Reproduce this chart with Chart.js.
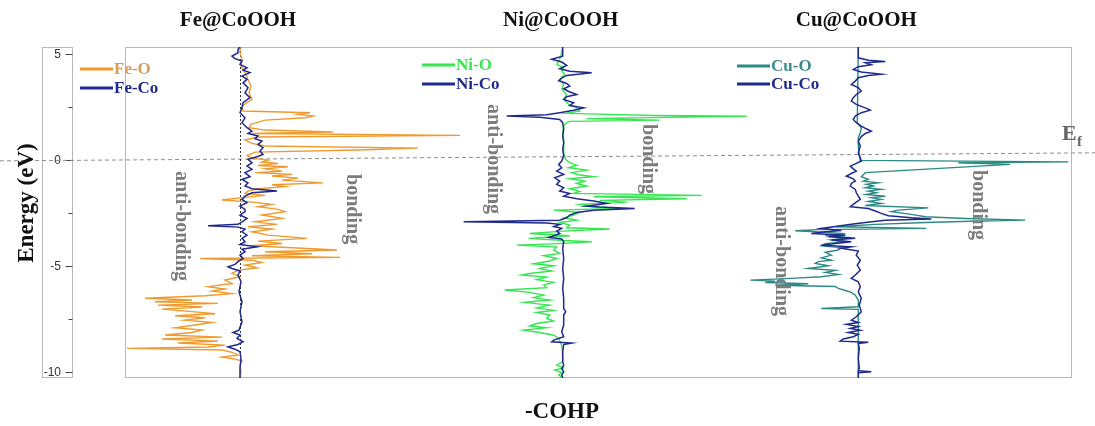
<!DOCTYPE html>
<html>
<head>
<meta charset="utf-8">
<title>-COHP of M@CoOOH</title>
<script src="https://cdn.jsdelivr.net/npm/chart.js@4"></script>
<style>
  html, body { margin: 0; padding: 0; background: #fff; }
  #wrap { width: 1095px; height: 426px; position: relative; }
</style>
</head>
<body>
<div id="wrap"><canvas id="cohp_chart"></canvas></div>
<script>
// each pair is [energy (eV), -COHP]
const feO = [[5.35,0],[5.08,0],[4.77,0.02],[4.45,0.01],[4.14,0.05],[3.82,0.08],[3.51,0.11],[3.19,0.09],[2.88,0.12],[2.56,0.02],[2.33,0.03],[2.25,0.70],[2.17,0.58],[2.09,0.73],[2.01,0.65],[1.90,0.25],[1.70,0.11],[1.54,0.09],[1.43,0.25],[1.34,0.93],[1.27,0.12],[1.18,2.20],[1.10,0.18],[0.96,0.05],[0.80,0.12],[0.68,0.25],[0.58,1.78],[0.49,1.18],[0.39,0.15],[0.23,0.07],[0.11,0.12],[0.01,0.28],[-0.08,0.22],[-0.14,0.38],[-0.24,0.18],[-0.30,0.48],[-0.40,0.25],[-0.51,0.42],[-0.58,0.15],[-0.66,0.52],[-0.74,0.32],[-0.84,0.58],[-0.93,0.42],[-1.06,0.83],[-1.15,0.32],[-1.24,0.45],[-1.34,0.18],[-1.45,0.08],[-1.56,0.05],[-1.65,0.25],[-1.76,0.02],[-1.87,-0.18],[-1.97,0.12],[-2.08,0.32],[-2.19,0.18],[-2.31,0.38],[-2.42,0.45],[-2.58,0.22],[-2.74,0.42],[-2.90,0.15],[-3.02,0.37],[-3.13,0.08],[-3.24,0.32],[-3.37,0.12],[-3.53,0.28],[-3.68,0.67],[-3.81,0.18],[-3.92,0.42],[-4.03,0.12],[-4.12,0.52],[-4.23,0.97],[-4.31,0.25],[-4.41,0.72],[-4.50,0.12],[-4.58,1.00],[-4.63,-0.40],[-4.71,0.12],[-4.82,0.22],[-4.94,0.05],[-5.07,0.17],[-5.19,-0.02],[-5.33,-0.08],[-5.49,0],[-5.65,-0.15],[-5.81,-0.08],[-5.96,-0.32],[-6.07,-0.15],[-6.17,-0.28],[-6.29,-0.08],[-6.39,-0.35],[-6.51,-0.95],[-6.59,-0.48],[-6.67,-0.85],[-6.75,-0.22],[-6.83,-0.82],[-6.92,-0.38],[-7.02,-0.78],[-7.14,-0.48],[-7.24,-0.25],[-7.33,-0.65],[-7.43,-0.35],[-7.54,-0.55],[-7.65,-0.28],[-7.77,-0.45],[-7.90,-0.65],[-8.01,-0.38],[-8.12,-0.48],[-8.24,-0.75],[-8.34,-0.18],[-8.43,-0.78],[-8.53,-0.22],[-8.62,-0.62],[-8.72,-0.15],[-8.81,-0.32],[-8.87,-1.13],[-8.95,-0.18],[-9.06,-0.08],[-9.19,-0.02],[-9.28,-0.18],[-9.38,-0.05],[-9.47,0.02],[-9.66,0],[-9.98,0.01],[-10.27,0]];
const feCo = [[5.35,0],[5.24,-0.02],[5.08,-0.02],[4.92,-0.08],[4.80,-0.05],[4.69,0.02],[4.53,0],[4.37,0.07],[4.26,0.03],[4.14,0.10],[3.98,0.02],[3.82,0.07],[3.66,0.03],[3.43,0.08],[3.19,0.05],[2.96,0.10],[2.72,0.03],[2.48,0.02],[2.25,0],[2.01,0.05],[1.78,0.02],[1.54,0.07],[1.38,0.12],[1.27,0.08],[1.15,0.18],[1.02,0.15],[0.91,0.22],[0.75,0.18],[0.60,0.23],[0.44,0.20],[0.28,0.23],[0.17,0.17],[0.05,0.08],[-0.11,0.12],[-0.27,0.07],[-0.43,0.12],[-0.58,0.05],[-0.77,0.10],[-0.90,0.02],[-1.06,0.08],[-1.21,0.05],[-1.34,0.12],[-1.45,0.37],[-1.53,0.12],[-1.69,0.05],[-1.84,0.02],[-2.00,0.07],[-2.16,0],[-2.31,0.05],[-2.42,0.05],[-2.58,0],[-2.74,0.07],[-2.90,0.02],[-3.02,-0.02],[-3.09,-0.32],[-3.15,-0.02],[-3.24,0.05],[-3.37,0.02],[-3.53,0.07],[-3.68,0.02],[-3.84,0.05],[-3.97,0],[-4.08,0.17],[-4.19,0.02],[-4.31,0.05],[-4.47,0],[-4.63,0.03],[-4.78,-0.02],[-4.91,-0.05],[-5.02,-0.12],[-5.10,-0.08],[-5.22,0],[-5.41,-0.02],[-5.73,0.01],[-6.20,-0.01],[-6.67,0.02],[-7.14,0],[-7.62,0.02],[-8.01,-0.01],[-8.12,-0.07],[-8.24,0],[-8.40,-0.03],[-8.56,0.03],[-8.69,-0.02],[-8.80,-0.12],[-8.91,-0.05],[-9.03,0],[-9.35,0.01],[-9.82,0],[-10.27,0]];
const niO = [[5.35,0],[4.92,-0.02],[4.77,-0.03],[4.53,-0.06],[4.37,0.01],[4.21,-0.01],[4.06,0.02],[3.82,-0.03],[3.59,0.01],[3.35,-0.01],[3.11,0.04],[2.88,0.01],[2.64,0.06],[2.48,0.14],[2.33,0.17],[2.22,0.04],[2.12,0.91],[2.08,1.84],[2.03,1.04],[1.97,0.24],[1.90,0.97],[1.84,0.07],[1.78,0.04],[1.62,0.01],[1.30,0],[0.99,0.01],[0.68,0.01],[0.36,0.01],[0.05,0.03],[-0.11,0.07],[-0.24,0.14],[-0.35,0.06],[-0.46,0.24],[-0.58,0.09],[-0.68,0.16],[-0.77,0.31],[-0.87,0.07],[-0.98,0.22],[-1.09,0.14],[-1.21,0.24],[-1.34,0.07],[-1.47,0.17],[-1.56,0.11],[-1.65,1.39],[-1.72,0.31],[-1.81,1.24],[-1.89,0.37],[-1.97,0.64],[-2.08,0.17],[-2.19,0.31],[-2.27,0.57],[-2.35,-0.09],[-2.46,0.17],[-2.58,0.11],[-2.71,0.01],[-2.82,0.14],[-2.93,-0.03],[-3.05,0.07],[-3.18,0.04],[-3.24,0.47],[-3.34,0.01],[-3.45,-0.33],[-3.56,0.07],[-3.68,-0.34],[-3.78,0.01],[-3.84,0.29],[-3.94,-0.09],[-4.00,-0.46],[-4.09,-0.06],[-4.23,-0.09],[-4.39,-0.03],[-4.50,-0.19],[-4.63,-0.06],[-4.75,-0.13],[-4.88,-0.29],[-4.97,-0.09],[-5.10,-0.23],[-5.22,-0.11],[-5.34,-0.33],[-5.41,-0.41],[-5.51,-0.16],[-5.63,-0.26],[-5.76,-0.09],[-5.89,-0.19],[-6.01,-0.16],[-6.12,-0.58],[-6.23,-0.33],[-6.36,-0.19],[-6.48,-0.29],[-6.59,-0.13],[-6.70,-0.38],[-6.83,-0.13],[-6.96,-0.26],[-7.08,-0.09],[-7.18,-0.26],[-7.30,-0.13],[-7.46,-0.16],[-7.58,-0.09],[-7.70,-0.26],[-7.81,-0.33],[-7.90,-0.16],[-8.01,-0.39],[-8.12,-0.23],[-8.25,-0.09],[-8.40,-0.04],[-8.72,-0.01],[-9.19,0],[-9.50,0],[-9.66,-0.06],[-9.79,0.01],[-9.90,-0.08],[-10.01,-0.01],[-10.13,-0.04],[-10.27,0]];
const niCo = [[5.35,0],[4.92,0],[4.77,-0.11],[4.64,-0.01],[4.48,0.04],[4.32,-0.03],[4.21,0.07],[4.14,0.29],[4.01,0.04],[3.88,-0.01],[3.76,-0.04],[3.63,0.04],[3.51,0.07],[3.38,0.01],[3.25,0.06],[3.11,0.14],[3.00,0.04],[2.88,0.01],[2.72,0.11],[2.59,0.07],[2.48,0.21],[2.37,0.11],[2.25,-0.03],[2.15,-0.16],[2.09,-0.56],[2.03,-0.23],[1.93,-0.03],[1.78,0],[1.46,0.01],[1.15,0],[0.83,0.01],[0.52,0],[0.20,0.01],[-0.03,-0.01],[-0.19,-0.04],[-0.35,-0.01],[-0.51,-0.06],[-0.66,0.01],[-0.82,-0.08],[-0.98,-0.03],[-1.13,-0.06],[-1.29,0.01],[-1.45,-0.03],[-1.56,0.07],[-1.69,0.01],[-1.81,0.14],[-1.92,0.31],[-2.03,0.44],[-2.16,0.24],[-2.20,0.37],[-2.27,0.72],[-2.35,0.31],[-2.46,0.14],[-2.58,0.07],[-2.71,0.04],[-2.82,-0.03],[-2.90,-0.99],[-2.96,-0.16],[-3.02,-0.03],[-3.12,-0.09],[-3.21,-0.01],[-3.34,-0.06],[-3.45,-0.03],[-3.56,-0.09],[-3.64,-0.14],[-3.71,-0.01],[-3.84,0.01],[-4.16,0],[-4.63,0.01],[-5.10,0],[-5.57,0.01],[-6.04,0],[-6.52,0.01],[-6.99,0.01],[-7.14,0.03],[-7.30,0.01],[-7.77,0.01],[-8.09,-0.01],[-8.32,0.01],[-8.48,-0.09],[-8.56,-0.11],[-8.62,0.09],[-8.69,0.01],[-9.03,0],[-9.50,0],[-9.66,0.01],[-9.82,-0.01],[-9.98,0.01],[-10.13,-0.01],[-10.27,0]];
const cuO = [[5.35,0],[1.78,-0.01],[1.54,0.03],[1.30,0.02],[1.07,0],[0.68,0],[0.20,0.01],[0.00,0.02],[-0.07,2.10],[-0.11,1.00],[-0.19,1.52],[-0.58,0.07],[-0.77,0.03],[-0.90,0.10],[-0.98,0.05],[-1.06,0.20],[-1.13,0.08],[-1.21,0.15],[-1.29,0.07],[-1.37,0.23],[-1.45,0.10],[-1.53,0.18],[-1.61,0.08],[-1.69,0.27],[-1.76,0.13],[-1.84,0.23],[-1.94,0.10],[-2.03,0.23],[-2.13,0.07],[-2.24,0.70],[-2.35,0.40],[-2.42,0.33],[-2.55,0.53],[-2.66,0.67],[-2.74,1.07],[-2.82,1.67],[-2.87,1.13],[-2.93,0.67],[-3.02,0.17],[-3.13,-0.23],[-3.21,0.68],[-3.27,-0.40],[-3.32,-0.63],[-3.37,-0.43],[-3.46,-0.13],[-3.56,-0.33],[-3.65,-0.07],[-3.75,-0.27],[-3.84,-0.13],[-3.93,-0.33],[-4.03,-0.37],[-4.12,-0.17],[-4.23,-0.20],[-4.34,-0.33],[-4.47,-0.27],[-4.60,-0.37],[-4.71,-0.27],[-4.78,-0.40],[-4.86,-0.43],[-4.97,-0.30],[-5.10,-0.50],[-5.19,-0.23],[-5.29,-0.33],[-5.38,-0.20],[-5.49,-0.37],[-5.57,-0.67],[-5.65,-1.08],[-5.70,-0.83],[-5.76,-0.93],[-5.82,-0.50],[-5.89,-0.83],[-5.95,-0.23],[-6.04,-0.20],[-6.14,-0.13],[-6.23,-0.07],[-6.36,-0.03],[-6.59,0],[-6.91,0],[-6.99,-0.37],[-7.03,0],[-7.30,0],[-10.27,0]];
const cuCo = [[5.35,0],[4.84,0],[4.73,0.10],[4.67,0.27],[4.61,0.07],[4.51,0.13],[4.42,0],[4.29,-0.05],[4.17,0.03],[4.07,0.23],[4.01,0.10],[3.90,0],[3.74,-0.03],[3.58,-0.07],[3.43,0],[3.27,0.03],[3.11,-0.02],[2.96,-0.05],[2.80,-0.07],[2.64,-0.02],[2.48,0.07],[2.37,0.12],[2.25,0.03],[2.09,-0.03],[1.93,-0.05],[1.78,-0.02],[1.62,0.03],[1.49,0.08],[1.38,0.13],[1.27,0.07],[1.12,0.03],[0.91,0],[0.68,0.02],[0.36,0],[0.12,0.02],[-0.03,0.03],[-0.14,-0.02],[-0.27,-0.08],[-0.40,-0.05],[-0.51,-0.02],[-0.62,-0.07],[-0.74,-0.12],[-0.87,-0.05],[-0.98,-0.03],[-1.09,-0.07],[-1.21,-0.08],[-1.37,-0.03],[-1.53,-0.02],[-1.69,0],[-1.84,0.02],[-1.97,-0.02],[-2.08,-0.05],[-2.19,-0.08],[-2.27,0.10],[-2.39,0.17],[-2.50,0.23],[-2.61,0.30],[-2.71,0.53],[-2.77,0.73],[-2.83,0.27],[-2.93,0.07],[-3.02,-0.07],[-3.12,-0.23],[-3.21,-0.37],[-3.31,-0.17],[-3.37,-0.33],[-3.45,-0.47],[-3.53,-0.13],[-3.60,-0.30],[-3.68,-0.03],[-3.76,-0.27],[-3.84,-0.07],[-3.92,-0.23],[-4.00,-0.37],[-4.08,-0.07],[-4.15,-0.17],[-4.28,0],[-4.47,-0.02],[-4.71,0.02],[-4.94,-0.01],[-5.18,0.02],[-5.41,-0.03],[-5.57,-0.07],[-5.73,0],[-5.96,0.02],[-6.20,0],[-6.51,0.03],[-6.83,0.01],[-7.14,0.03],[-7.38,-0.02],[-7.54,-0.07],[-7.65,0],[-7.74,-0.12],[-7.84,0],[-7.93,-0.08],[-8.02,0.02],[-8.12,-0.10],[-8.21,0],[-8.32,-0.05],[-8.43,-0.15],[-8.53,-0.18],[-8.58,0.10],[-8.64,0],[-8.87,0.01],[-9.35,0],[-9.82,0.01],[-9.93,0],[-9.98,0.13],[-10.02,0],[-10.27,0]];

const yTickValues = [-10, -5, 0, 5];
const yMinorTicks = [-7.5, -2.5, 2.5];
const panelTitles = ['Fe@CoOOH', 'Ni@CoOOH', 'Cu@CoOOH'];
const panelAxes = ['xFe', 'xNi', 'xCu'];

const SERIF = '"Liberation Serif", "Times New Roman", serif';
const toPoints = pairs => pairs.map(([e, v]) => ({ x: v, y: e }));

function verticalText(ctx, text, x, y, angle) {
    ctx.save();
    ctx.translate(x, y);
    ctx.rotate(angle);
    ctx.textAlign = 'center';
    ctx.textBaseline = 'middle';
    ctx.fillText(text, 0, 0);
    ctx.restore();
}

// frames, Fermi level, panel titles, legends and the bonding labels
const panelDecor = {
    id: 'panelDecor',
    beforeDatasetsDraw(chart, args, opts) {
        const { ctx, chartArea: a, scales } = chart;
        const yScale = scales.y;
        ctx.save();
        ctx.lineWidth = 1;
        ctx.strokeStyle = '#b8b8b8';
        ctx.strokeRect(a.left + 0.5, a.top + 0.5, a.right - a.left - 1, a.bottom - a.top - 1);
        ctx.strokeRect(opts.axisBox[0] + 0.5, a.top + 0.5, opts.axisBox[1] - opts.axisBox[0], a.bottom - a.top - 1);

        // tick marks on the inside of the energy strip
        ctx.strokeStyle = '#444';
        const edge = opts.axisBox[1] + 0.5;
        yTickValues.forEach(v => {
            const py = Math.round(yScale.getPixelForValue(v)) + 0.5;
            ctx.beginPath(); ctx.moveTo(edge - 7, py); ctx.lineTo(edge, py); ctx.stroke();
        });
        yMinorTicks.forEach(v => {
            const py = Math.round(yScale.getPixelForValue(v)) + 0.5;
            ctx.beginPath(); ctx.moveTo(edge - 4, py); ctx.lineTo(edge, py); ctx.stroke();
        });

        // Fermi level across the whole figure (the scan runs slightly uphill to the right)
        ctx.strokeStyle = '#8c8c8c';
        ctx.setLineDash([4, 3]);
        ctx.beginPath();
        ctx.moveTo(0, yScale.getPixelForValue(0) + 0.5);
        ctx.lineTo(chart.width, yScale.getPixelForValue(opts.fermiRise) + 0.5);
        ctx.stroke();

        // zero line of the first panel
        const x0 = Math.round(scales.xFe.getPixelForValue(0)) + 0.5;
        ctx.strokeStyle = '#333';
        ctx.setLineDash([2, 2]);
        ctx.beginPath(); ctx.moveTo(x0, a.top); ctx.lineTo(x0, a.bottom); ctx.stroke();
        ctx.restore();
    },
    afterDraw(chart, args, opts) {
        const { ctx, scales } = chart;
        const yScale = scales.y;
        ctx.save();

        ctx.fillStyle = '#111';
        ctx.font = 'bold 21px ' + SERIF;
        ctx.textAlign = 'center';
        ctx.textBaseline = 'middle';
        panelTitles.forEach((t, i) => {
            ctx.fillText(t, scales[panelAxes[i]].getPixelForValue(0) - 2, opts.titleY);
        });

        ctx.font = 'bold 23px ' + SERIF;
        ctx.fillText('-COHP', opts.xTitle[0], opts.xTitle[1]);
        verticalText(ctx, 'Energy (eV)', opts.yTitle[0], opts.yTitle[1], -Math.PI / 2);

        // legends, one per panel
        ctx.font = 'bold 17px ' + SERIF;
        ctx.textAlign = 'left';
        opts.legends.forEach(item => {
            const ds = chart.data.datasets[item.dataset];
            ctx.strokeStyle = ds.borderColor;
            ctx.lineWidth = 3;
            ctx.beginPath(); ctx.moveTo(item.x, item.y); ctx.lineTo(item.x + 33, item.y); ctx.stroke();
            ctx.fillStyle = item.textColor || ds.borderColor;
            ctx.fillText(ds.label, item.x + 34, item.y + 1);
        });

        // bonding / anti-bonding notes, placed in data units
        ctx.fillStyle = '#7c7c7c';
        ctx.font = 'bold 20px ' + SERIF;
        opts.notes.forEach(n => {
            const sx = scales[n.axis];
            verticalText(ctx, n.text, sx.getPixelForValue(n.x), yScale.getPixelForValue(n.e), Math.PI / 2);
        });

        // Fermi level tag
        ctx.fillStyle = '#666';
        ctx.textAlign = 'left';
        ctx.textBaseline = 'alphabetic';
        ctx.font = 'bold 22px ' + SERIF;
        ctx.fillText('E', opts.efTag[0], opts.efTag[1]);
        ctx.font = 'bold 15px ' + SERIF;
        ctx.fillText('f', opts.efTag[0] + 15, opts.efTag[1] + 6);
        ctx.restore();
    }
};

const lineSet = (label, pairs, axis, color, width, order) => ({
    label: label,
    data: toPoints(pairs),
    xAxisID: axis,
    borderColor: color,
    backgroundColor: color,
    borderWidth: width,
    order: order,
});

const ctx = document.getElementById('cohp_chart');
const cohpChart = new Chart(ctx, {
    type: 'scatter',
    data: {
        datasets: [
            lineSet('Fe-O', feO, 'xFe', '#ef9a2e', 1.4, 2),
            lineSet('Fe-Co', feCo, 'xFe', '#1f2a8c', 1.5, 1),
            lineSet('Ni-O', niO, 'xNi', '#36e651', 1.4, 2),
            lineSet('Ni-Co', niCo, 'xNi', '#1f2a8c', 1.5, 1),
            lineSet('Cu-O', cuO, 'xCu', '#2b8a84', 1.4, 2),
            lineSet('Cu-Co', cuCo, 'xCu', '#1f2a8c', 1.5, 1),
        ]
    },
    options: {
        responsive: true,
        maintainAspectRatio: false,
        animation: false,
        showLine: true,
        elements: {
            point: { radius: 0, hoverRadius: 0 },
            line: { tension: 0 }
        },
        layout: { padding: { top: 47, right: 23, bottom: 48, left: 0 } },
        scales: {
            // one hidden -COHP axis per panel, 100 px per unit, sharing the plot box
            xFe: { type: 'linear', display: false, min: -1.15, max: 8.32 },
            xNi: { type: 'linear', display: false, min: -4.377, max: 5.093 },
            xCu: { type: 'linear', display: false, min: -7.333, max: 2.137 },
            y: {
                type: 'linear',
                position: 'left',
                min: -10.27,
                max: 5.35,
                // tick marks are drawn by panelDecor; the long invisible tick only pushes the labels left
                grid: { display: false, drawTicks: true, tickLength: 61 },
                border: { display: false },
                afterBuildTicks: scale => { scale.ticks = yTickValues.map(v => ({ value: v })); },
                afterFit: scale => { scale.width = 125; },
                ticks: {
                    padding: 3,
                    color: '#333',
                    font: { family: '"Liberation Sans", Arial, sans-serif', size: 12 }
                }
            }
        },
        plugins: {
            legend: { display: false },
            tooltip: { enabled: false },
            panelDecor: {
                axisBox: [42, 72],
                fermiRise: 0.38,
                titleY: 21,
                xTitle: [562, 412],
                yTitle: [27, 203],
                efTag: [1062, 140],
                legends: [
                    { dataset: 0, x: 80, y: 69, textColor: '#d69d5c' },
                    { dataset: 1, x: 80, y: 88 },
                    { dataset: 2, x: 422, y: 65 },
                    { dataset: 3, x: 422, y: 84 },
                    { dataset: 4, x: 737, y: 66, textColor: '#3a8c88' },
                    { dataset: 5, x: 737, y: 84 },
                ],
                notes: [
                    { axis: 'xFe', text: 'anti-bonding', x: -0.59, e: -3.10 },
                    { axis: 'xFe', text: 'bonding', x: 1.12, e: -2.30 },
                    { axis: 'xNi', text: 'anti-bonding', x: -0.70, e: 0.06 },
                    { axis: 'xNi', text: 'bonding', x: 0.85, e: 0.06 },
                    { axis: 'xCu', text: 'anti-bonding', x: -0.77, e: -4.75 },
                    { axis: 'xCu', text: 'bonding', x: 1.20, e: -2.11 },
                ]
            }
        }
    },
    plugins: [panelDecor]
});
</script>
</body>
</html>
